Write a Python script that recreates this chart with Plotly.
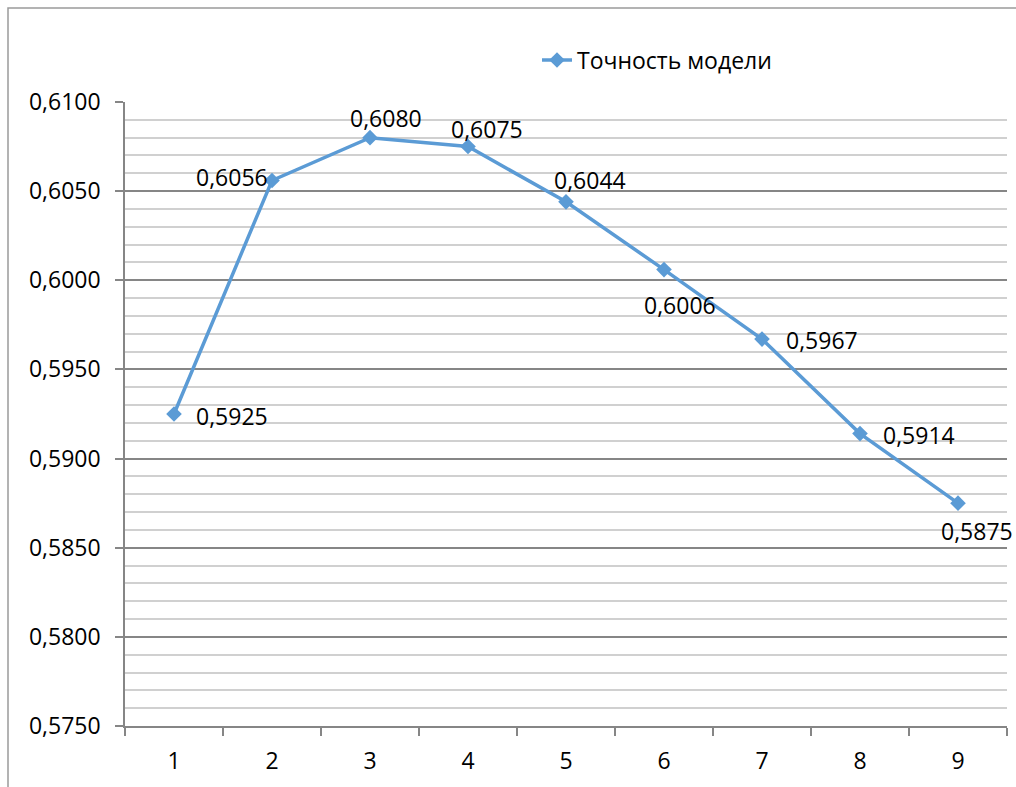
import plotly.graph_objects as go

# Model accuracy by run number
runs = ["1", "2", "3", "4", "5", "6", "7", "8", "9"]
accuracy = [0.5925, 0.6056, 0.6080, 0.6075, 0.6044, 0.6006, 0.5967, 0.5914, 0.5875]
series_name = "Точность модели"

# Per-point label offsets (pixels) from each marker
label_dx = [58, -40, 16, 19, 24, 16, 60, 59, 19]
label_dy = [-2, 3, 20, 18, 22, -35, -1, -1, -28]

W, H = 1016, 787
L, R, T, B = 125, 9, 102, 61
FONT = "Open Sans"
FS = 23
BLUE = "#5B9BD5"

fig = go.Figure()
fig.add_trace(go.Scatter(
    x=runs, y=accuracy, name=series_name, mode="lines+markers",
    line=dict(color=BLUE, width=3.5),
    marker=dict(symbol="diamond", size=12, color=BLUE),
    hoverinfo="skip",
))

# Value labels; on a category axis the annotation x is the category index
for i, (v, dx, dy) in enumerate(zip(accuracy, label_dx, label_dy)):
    fig.add_annotation(
        x=i, y=v, xref="x", yref="y", text=f"{v:.4f}".replace(".", ","),
        showarrow=False, xshift=dx, yshift=dy,
        font=dict(family=FONT, size=FS, color="#000000"),
    )

# Outer chart frame
pw, ph = W - L - R, H - T - B
fig.add_shape(
    type="rect", xref="paper", yref="paper",
    x0=(8 - L) / pw, x1=(W + 20 - L) / pw,
    y0=-(H + 20 - (H - B)) / ph, y1=(H - B - 8) / ph,
    line=dict(color="#9a9a9a", width=1.5), fillcolor="rgba(0,0,0,0)", layer="below",
)

fig.update_layout(
    width=W, height=H,
    margin=dict(l=L, r=R, t=T, b=B, pad=0),
    paper_bgcolor="white", plot_bgcolor="white",
    separators=", ",
    font=dict(family=FONT, size=FS, color="#000000"),
    showlegend=True,
    legend=dict(
        orientation="h", x=(537 - L) / pw, y=(H - B - 60) / ph,
        xanchor="left", yanchor="middle",
        font=dict(family=FONT, size=FS, color="#000000"),
        bgcolor="rgba(0,0,0,0)",
    ),
    xaxis=dict(
        type="category", range=[-0.5, len(runs) - 0.5], autorange=False,
        showgrid=False, zeroline=False,
        showline=True, linecolor="#868686", linewidth=1.5,
        ticks="outside", tickson="boundaries", ticklen=8, tickwidth=1.5, tickcolor="#868686",
        ticklabelstandoff=14,
        tickfont=dict(family=FONT, size=FS, color="#000000"),
    ),
    yaxis=dict(
        range=[0.575, 0.610], autorange=False, dtick=0.005, tick0=0.575, tickformat=".4f",
        showgrid=True, gridcolor="#868686", gridwidth=1.5, zeroline=False,
        showline=True, linecolor="#868686", linewidth=1.5,
        ticks="outside", ticklen=8, tickwidth=1.5, tickcolor="#868686",
        ticklabelstandoff=10,
        tickfont=dict(family=FONT, size=FS, color="#000000"),
        minor=dict(dtick=0.001, showgrid=True, gridcolor="#d0d0d0", gridwidth=1.5, ticks=""),
    ),
)

fig.write_html("out.html")
